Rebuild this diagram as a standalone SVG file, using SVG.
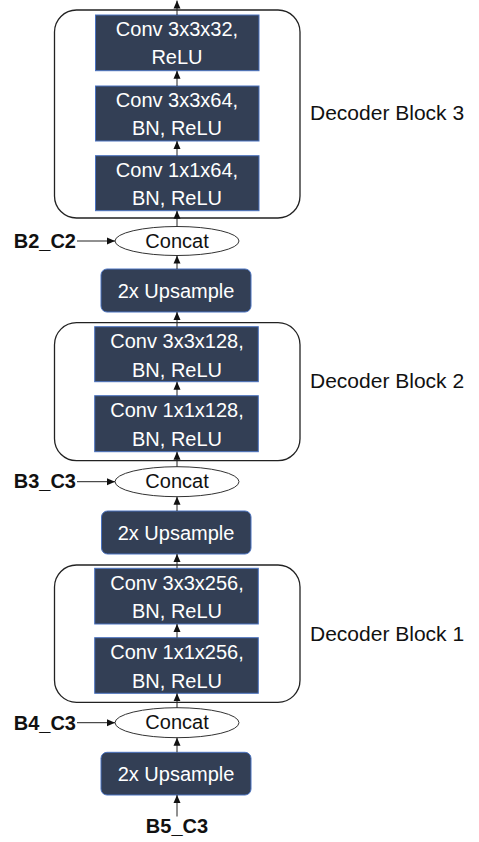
<svg xmlns="http://www.w3.org/2000/svg" width="479" height="842" viewBox="0 0 479 842">
<defs>
<marker id="ah" viewBox="0 0 8 8" refX="8" refY="4" markerWidth="8" markerHeight="8" markerUnits="userSpaceOnUse" orient="auto">
<path d="M0,0.5 L8,4 L0,7.5 Z" fill="#111"/>
</marker>
<style>
.blk{fill:#fff;stroke:#222;stroke-width:1.3}
.conv{fill:#333f55;stroke:#4a72c0;stroke-width:1}
.up{fill:#333f55;stroke:#4a72c0;stroke-width:1}
.cc{fill:#fff;stroke:#333;stroke-width:1}
.wt{fill:#fff;font-family:"Liberation Sans",Arial,sans-serif;font-size:20px;text-anchor:middle}
.bt{fill:#111;font-family:"Liberation Sans",Arial,sans-serif;font-size:20px;text-anchor:middle}
.lb{fill:#111;font-family:"Liberation Sans",Arial,sans-serif;font-size:20px;font-weight:bold;text-anchor:end}
.dl{fill:#111;font-family:"Liberation Sans",Arial,sans-serif;font-size:21px}
.cn line{stroke:#222;stroke-width:1;marker-end:url(#ah)}
</style>
</defs>
<rect width="479" height="842" fill="#fff"/>
<g id="block3">
<rect class="blk" x="54.5" y="10" width="245.5" height="208" rx="22"/>
<text class="dl" x="310" y="120">Decoder Block 3</text>
</g>
<g id="block2">
<rect class="blk" x="54.5" y="322.7" width="245.5" height="138" rx="22"/>
<text class="dl" x="310" y="388">Decoder Block 2</text>
</g>
<g id="block1">
<rect class="blk" x="54.5" y="565" width="245.5" height="137.3" rx="22"/>
<text class="dl" x="310" y="640.7">Decoder Block 1</text>
</g>
<g id="conv3x3x32">
<rect class="conv" x="95.5" y="15" width="163.5" height="55.7"/>
<text class="wt" x="177" y="36">Conv 3x3x32,</text>
<text class="wt" x="177" y="64.3">ReLU</text>
</g>
<g id="conv3x3x64">
<rect class="conv" x="95.5" y="86" width="163.5" height="55"/>
<text class="wt" x="177" y="107">Conv 3x3x64,</text>
<text class="wt" x="177" y="135">BN, ReLU</text>
</g>
<g id="conv1x1x64">
<rect class="conv" x="95.5" y="155.7" width="163.5" height="55"/>
<text class="wt" x="177" y="176.7">Conv 1x1x64,</text>
<text class="wt" x="177" y="204.7">BN, ReLU</text>
</g>
<g id="concat3">
<ellipse class="cc" cx="177" cy="241" rx="62" ry="14.5"/>
<text class="bt" x="177" y="247.5">Concat</text>
</g>
<g id="upsample3">
<rect class="up" x="101" y="269" width="150" height="43" rx="6"/>
<text class="wt" x="176" y="297.5">2x Upsample</text>
</g>
<g id="conv3x3x128">
<rect class="conv" x="94.7" y="326.7" width="163.6" height="55"/>
<text class="wt" x="177" y="348">Conv 3x3x128,</text>
<text class="wt" x="177" y="376.5">BN, ReLU</text>
</g>
<g id="conv1x1x128">
<rect class="conv" x="94.7" y="395.7" width="163.6" height="56"/>
<text class="wt" x="177" y="417">Conv 1x1x128,</text>
<text class="wt" x="177" y="445.5">BN, ReLU</text>
</g>
<g id="concat2">
<ellipse class="cc" cx="177" cy="481.7" rx="62" ry="15"/>
<text class="bt" x="177" y="488">Concat</text>
</g>
<g id="upsample2">
<rect class="up" x="101.5" y="511" width="149.5" height="43" rx="6"/>
<text class="wt" x="176" y="539.5">2x Upsample</text>
</g>
<g id="conv3x3x256">
<rect class="conv" x="94.7" y="568.3" width="163.6" height="55.7"/>
<text class="wt" x="177" y="590">Conv 3x3x256,</text>
<text class="wt" x="177" y="618">BN, ReLU</text>
</g>
<g id="conv1x1x256">
<rect class="conv" x="94.7" y="637.7" width="163.6" height="55.6"/>
<text class="wt" x="177" y="659">Conv 1x1x256,</text>
<text class="wt" x="177" y="687.5">BN, ReLU</text>
</g>
<g id="concat1">
<ellipse class="cc" cx="177" cy="722.7" rx="62" ry="15"/>
<text class="bt" x="177" y="729">Concat</text>
</g>
<g id="upsample1">
<rect class="up" x="101" y="752.3" width="150" height="42.7" rx="6"/>
<text class="wt" x="176" y="781">2x Upsample</text>
</g>
<g id="labels">
<text class="lb" x="76" y="247.5">B2_C2</text>
<text class="lb" x="76" y="488">B3_C3</text>
<text class="lb" x="76" y="730">B4_C3</text>
<text class="lb" x="177" y="833" style="text-anchor:middle">B5_C3</text>
</g>
<g id="connectors" class="cn">
<line x1="177" y1="15" x2="177" y2="0.5"/>
<line x1="177" y1="86" x2="177" y2="70.7"/>
<line x1="177" y1="155.7" x2="177" y2="141"/>
<line x1="177" y1="226.5" x2="177" y2="210.7"/>
<line x1="177" y1="269" x2="177" y2="255.5"/>
<line x1="177" y1="326.7" x2="177" y2="312"/>
<line x1="177" y1="395.7" x2="177" y2="381.7"/>
<line x1="177" y1="466.7" x2="177" y2="451.7"/>
<line x1="177" y1="511" x2="177" y2="496.7"/>
<line x1="177" y1="568.3" x2="177" y2="554"/>
<line x1="177" y1="637.7" x2="177" y2="624"/>
<line x1="177" y1="707.7" x2="177" y2="693.3"/>
<line x1="177" y1="752.3" x2="177" y2="737.7"/>
<line x1="177" y1="816.5" x2="177" y2="795"/>
<line x1="77" y1="241" x2="115" y2="241"/>
<line x1="77" y1="481.7" x2="115" y2="481.7"/>
<line x1="77" y1="722.7" x2="115" y2="722.7"/>
</g>
</svg>
